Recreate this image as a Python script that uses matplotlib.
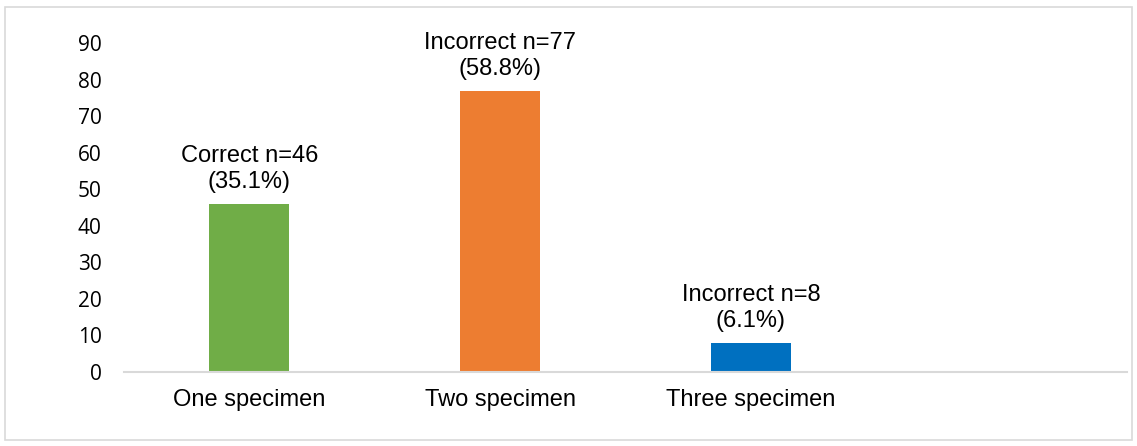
import matplotlib.pyplot as plt
from matplotlib.patches import Rectangle

categories = ["One specimen", "Two specimen", "Three specimen"]
counts = [46, 77, 8]
labels = ["Correct n=46\n(35.1%)", "Incorrect n=77\n(58.8%)", "Incorrect n=8\n(6.1%)"]
colors = ["#70AD47", "#ED7D31", "#0070C0"]
yticks = list(range(0, 100, 10))

plt.rcParams['font.family'] = ['Liberation Sans', 'DejaVu Sans']

fig = plt.figure(figsize=(11.37, 4.46), dpi=100)
ax = fig.add_axes([124/1137, 1 - 372/446, (1127 - 124)/1137, (372 - 43)/446])

x = list(range(len(categories)))
bars = ax.bar(x, counts, width=0.32, color=colors, zorder=2)
for b, lab in zip(bars, labels):
    ax.annotate(lab, (b.get_x() + b.get_width()/2, b.get_height()),
                xytext=(0, 7.5), textcoords="offset points",
                ha="center", va="bottom", fontsize=17, linespacing=1.25)

ax.set_xlim(-0.5, 3.5)
ax.set_ylim(0, 90)
ax.set_yticks(yticks)
ax.set_xticks(x)
ax.set_xticklabels(categories, fontsize=17)
ax.set_yticklabels([str(t) for t in yticks], family=['Open Sans', 'DejaVu Sans'], fontsize=15)
ax.tick_params(axis="both", length=0, colors="black")
ax.tick_params(axis="y", pad=16)
ax.tick_params(axis="x", pad=12)
for s in ["top", "right", "left"]:
    ax.spines[s].set_visible(False)
ax.spines["bottom"].set_color("#D9D9D9")
ax.spines["bottom"].set_linewidth(1.5)

# outer chart border
fig.patches.append(Rectangle((5/1137, 1 - 440/446), 1127/1137, 433/446,
                             transform=fig.transFigure, fill=False,
                             edgecolor="#D9D9D9", linewidth=1.2))

fig.savefig("out.png", dpi=100)
